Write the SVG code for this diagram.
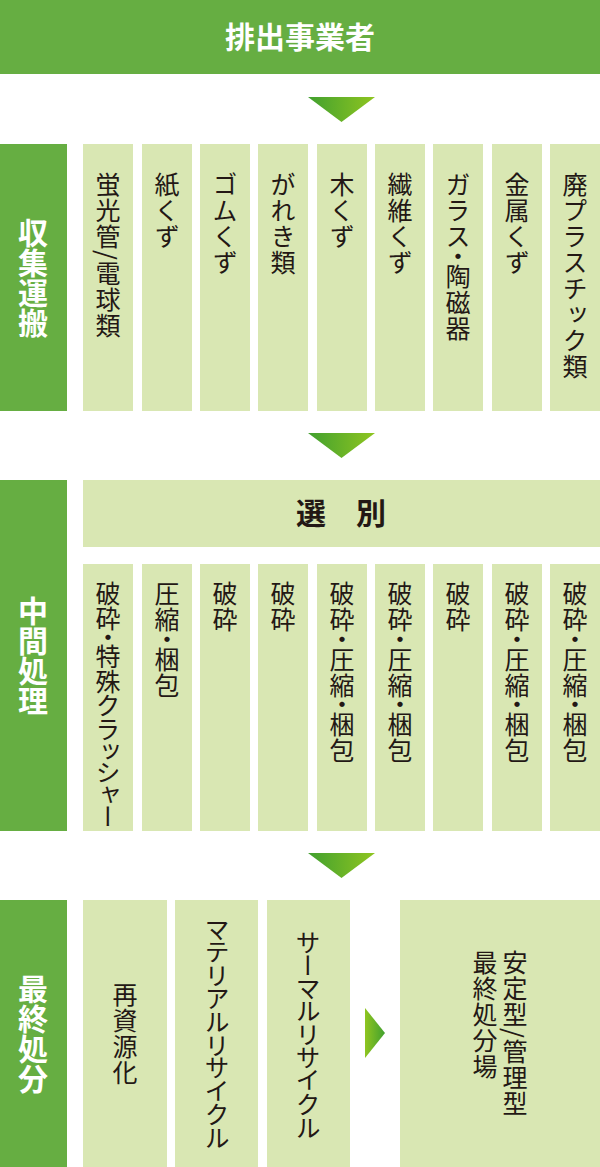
<svg xmlns="http://www.w3.org/2000/svg" width="600" height="1167" viewBox="0 0 600 1167">
<defs>
<linearGradient id="gDown" x1="0" y1="0" x2="1" y2="0"><stop offset="0" stop-color="#41a02f"/><stop offset="1" stop-color="#8fc520"/></linearGradient>
<linearGradient id="gRight" x1="0" y1="0" x2="1" y2="0"><stop offset="0" stop-color="#8fc520"/><stop offset="1" stop-color="#41a02f"/></linearGradient>
<style>
.dk{fill:#66ae42}
.lt{fill:#d9e7b3}
.lab{fill:#fff;font-family:"Noto Sans CJK JP","Noto Sans",sans-serif;font-weight:700;font-size:30px;writing-mode:vertical-rl;text-anchor:middle}
.v{fill:#231815;font-family:"Noto Sans CJK JP","Noto Sans",sans-serif;font-size:25px;writing-mode:vertical-rl}
.p{font-feature-settings:"vpal"}
.ls{letter-spacing:1px}
.vm{text-anchor:middle}
.h{font-family:"Noto Sans CJK JP","Noto Sans",sans-serif;font-weight:700;font-size:30px;text-anchor:middle;dominant-baseline:central}
</style>
</defs>
<g id="connectors">
<polygon points="308,97 375,97 341.5,122" fill="url(#gDown)"/>
<polygon points="308,433 375,433 341.5,458" fill="url(#gDown)"/>
<polygon points="308,853 375,853 341.5,878" fill="url(#gDown)"/>
<polygon points="365,1008 385,1033 365,1058" fill="url(#gRight)"/>
</g>
<g id="top">
<rect class="dk" x="0" y="0" width="600" height="74"/>
<text class="h" x="300" y="35" fill="#fff">排出事業者</text>
</g>
<g id="collection">
<rect class="dk" x="0" y="144" width="67" height="267"/>
<text class="lab" x="33" y="278">収集運搬</text>
<g id="c1"><rect class="lt" x="83" y="144" width="50" height="267"/><text class="v ls" x="108" y="172">蛍光管/電球類</text></g>
<g id="c2"><rect class="lt" x="142" y="144" width="50" height="267"/><text class="v ls" x="167" y="172">紙くず</text></g>
<g id="c3"><rect class="lt" x="200" y="144" width="50" height="267"/><text class="v ls" x="225" y="172">ゴムくず</text></g>
<g id="c4"><rect class="lt" x="258" y="144" width="50" height="267"/><text class="v ls" x="283" y="172">がれき類</text></g>
<g id="c5"><rect class="lt" x="317" y="144" width="50" height="267"/><text class="v ls" x="342" y="172">木くず</text></g>
<g id="c6"><rect class="lt" x="375" y="144" width="50" height="267"/><text class="v ls" x="400" y="172">繊維くず</text></g>
<g id="c7"><rect class="lt" x="433" y="144" width="50" height="267"/><text class="v ls" x="458" y="172">ガラス<tspan class="p">・</tspan>陶磁器</text></g>
<g id="c8"><rect class="lt" x="492" y="144" width="50" height="267"/><text class="v ls" x="517" y="172">金属くず</text></g>
<g id="c9"><rect class="lt" x="550" y="144" width="50" height="267"/><text class="v ls" x="575" y="172">廃プラスチック類</text></g>
</g>
<g id="intermediate">
<rect class="dk" x="0" y="480" width="67" height="351"/>
<text class="lab" x="33" y="656">中間処理</text>
<g id="sort"><rect class="lt" x="83" y="480" width="517" height="67"/><text class="h" x="341" y="511" fill="#231815">選　別</text></g>
<g id="m1"><rect class="lt" x="83" y="564" width="50" height="267"/><text class="v p" x="108" y="581">破砕・特殊クラッシャー</text></g>
<g id="m2"><rect class="lt" x="142" y="564" width="50" height="267"/><text class="v p ls" x="167" y="581">圧縮・梱包</text></g>
<g id="m3"><rect class="lt" x="200" y="564" width="50" height="267"/><text class="v p ls" x="225" y="581">破砕</text></g>
<g id="m4"><rect class="lt" x="258" y="564" width="50" height="267"/><text class="v p ls" x="283" y="581">破砕</text></g>
<g id="m5"><rect class="lt" x="317" y="564" width="50" height="267"/><text class="v p ls" x="342" y="581">破砕・圧縮・梱包</text></g>
<g id="m6"><rect class="lt" x="375" y="564" width="50" height="267"/><text class="v p ls" x="400" y="581">破砕・圧縮・梱包</text></g>
<g id="m7"><rect class="lt" x="433" y="564" width="50" height="267"/><text class="v p ls" x="458" y="581">破砕</text></g>
<g id="m8"><rect class="lt" x="492" y="564" width="50" height="267"/><text class="v p ls" x="517" y="581">破砕・圧縮・梱包</text></g>
<g id="m9"><rect class="lt" x="550" y="564" width="50" height="267"/><text class="v p ls" x="575" y="581">破砕・圧縮・梱包</text></g>
</g>
<g id="final">
<rect class="dk" x="0" y="900" width="67" height="267"/>
<text class="lab" x="33" y="1034">最終処分</text>
<g id="f1"><rect class="lt" x="83" y="900" width="84" height="267"/><text class="v ls vm" x="125" y="1034">再資源化</text></g>
<g id="f2"><rect class="lt" x="175" y="900" width="83" height="267"/><text class="v p vm" x="217" y="1034">マテリアルリサイクル</text></g>
<g id="f3"><rect class="lt" x="267" y="900" width="83" height="267"/><text class="v p vm" x="308" y="1035">サーマルリサイクル</text></g>
<g id="f4"><rect class="lt" x="400" y="900" width="200" height="267"/><text class="v ls" x="515" y="950">安定型/管理型</text><text class="v ls" x="485" y="950">最終処分場</text></g>
</g>
</svg>
